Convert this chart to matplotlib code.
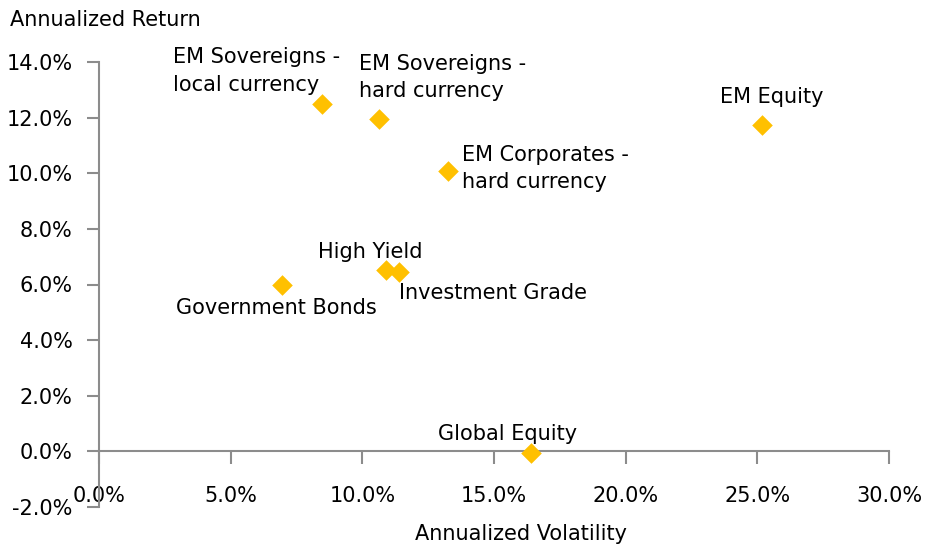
import matplotlib.pyplot as plt
from matplotlib.ticker import FuncFormatter

names = ["EM Sovereigns -\nlocal currency", "EM Sovereigns -\nhard currency",
         "EM Corporates -\nhard currency", "EM Equity", "High Yield",
         "Investment Grade", "Government Bonds", "Global Equity"]
volatility = [8.47, 10.63, 13.25, 25.18, 10.9, 11.39, 6.95, 16.4]
returns = [12.48, 11.94, 10.07, 11.73, 6.51, 6.44, 5.97, -0.07]

# label offsets in points, and horizontal alignment
offsets = [(-107, 24), (-14, 30), (10, 2), (7, 20), (-49, 13), (0, -15), (-76, -16), (-67, 14)]
aligns = ["left", "left", "left", "center", "left", "left", "left", "left"]

fs = 15
plt.rcParams["font.family"] = "DejaVu Sans"
fig = plt.figure(figsize=(9.33, 5.45), dpi=100)
ax = fig.add_axes([99 / 933, 1 - 507 / 545, 790 / 933, 445 / 545])

ax.scatter(volatility, returns, marker="D", s=110, color="#FFC000", zorder=3, linewidths=0)

for name, x, y, off, ha in zip(names, volatility, returns, offsets, aligns):
    ax.annotate(name, (x, y), xytext=off, textcoords="offset points",
                ha=ha, va="center", fontsize=fs, linespacing=1.45)

ax.set_xlim(0, 30)
ax.set_ylim(-2, 14)
ax.set_xticks(range(0, 31, 5))
ax.set_yticks(range(-2, 15, 2))
pct = FuncFormatter(lambda v, p: f"{v:.1f}%")
ax.xaxis.set_major_formatter(pct)
ax.yaxis.set_major_formatter(pct)

ax.spines["top"].set_visible(False)
ax.spines["right"].set_visible(False)
ax.spines["bottom"].set_position(("data", 0))
for s in ["left", "bottom"]:
    ax.spines[s].set_color("#8c8c8c")
    ax.spines[s].set_linewidth(1.5)
ax.tick_params(axis="both", colors="#8c8c8c", width=1.5, length=9, labelcolor="black",
               labelsize=fs)
ax.tick_params(axis="x", pad=16)
ax.tick_params(axis="y", pad=10)

fig.text(10 / 933, 1 - 20 / 545, "Annualized Return", fontsize=fs, ha="left", va="center")
fig.text(521 / 933, 1 - 534 / 545, "Annualized Volatility", fontsize=fs, ha="center", va="center")

fig.savefig("out.png", dpi=100)
